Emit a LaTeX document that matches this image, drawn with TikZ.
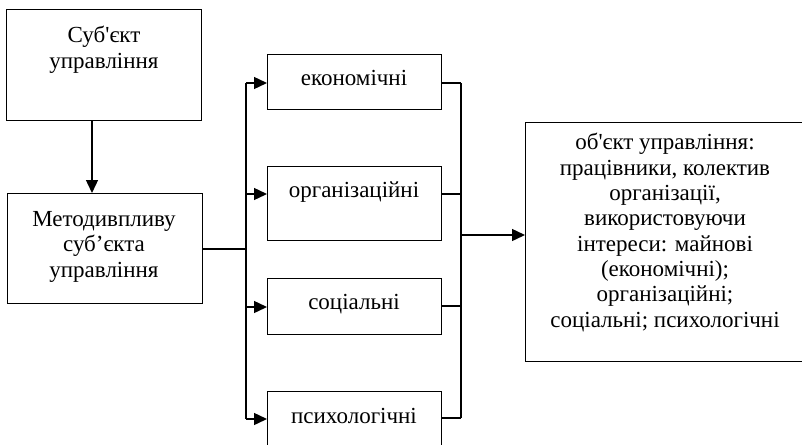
\documentclass[tikz,border=0pt]{standalone}
\usepackage{fontspec}
\newfontfamily\uafont{Liberation Serif}
\usetikzlibrary{arrows.meta}
\begin{document}
\begin{tikzpicture}[x=1pt,y=-1pt,
  box/.style={draw, line width=1.4pt, rectangle, anchor=north west, inner sep=0pt},
  txt/.style={font=\uafont\fontsize{23}{25.3}\selectfont, align=center, anchor=base, inner sep=0pt},
  link/.style={line width=1.4pt},
  arr/.style={line width=1.4pt, -{Triangle[length=13pt,width=12pt]}}]
\useasboundingbox (0,0) rectangle (802,444);
\clip (0,0) rectangle (802,444);

% boxes
\node[box, minimum width=195pt, minimum height=111pt] (subj) at (6,9) {};
\node[box, minimum width=195pt, minimum height=110pt] (meth) at (7,193) {};
\node[box, minimum width=174pt, minimum height=55pt] (econ) at (267,54) {};
\node[box, minimum width=174pt, minimum height=74pt] (org) at (267,166) {};
\node[box, minimum width=174pt, minimum height=56pt] (soc) at (267,278) {};
\node[box, minimum width=174pt, minimum height=70pt] (psy) at (267,391) {};
\node[box, minimum width=280pt, minimum height=239pt] (obj) at (525,122) {};

% texts (multi-line nodes are placed by the baseline of their last line)
\node[txt] (tsubj) at (104,68) {Суб\char"0027\relax єкт\\управління};
\node[txt] (tmeth) at (104,277) {Методивпливу\\суб’єкта\\управління};
\node[txt] (tecon) at (354,85) {економічні};
\node[txt] (torg) at (354,197) {організаційні};
\node[txt] (tsoc) at (354,309) {соціальні};
\node[txt] (tpsy) at (354,423) {психологічні};
\node[txt] (tobj) at (665,327) {об\char"0027\relax єкт управління:\\працівники, колектив\\організації,\\використовуючи\\інтереси: майнові\\(економічні);\\організаційні;\\соціальні; психологічні};

% bus coordinates
\coordinate (dx) at (92,0);
\coordinate (lE) at (246,83);
\coordinate (lO) at (246,194);
\coordinate (lM) at (246,249);
\coordinate (lS) at (246,307);
\coordinate (lP) at (246,419);
\coordinate (rE) at (461,83);
\coordinate (rO) at (461,194);
\coordinate (rX) at (461,235);
\coordinate (rS) at (461,306);
\coordinate (rP) at (461,418);

% connectors
\draw[arr] (subj.south -| dx) -- (meth.north -| dx);
\draw[link] (meth.east |- lM) -- (lM);
\draw[link] (lE) -- (lP);
\draw[arr] (lE) -- (econ.west |- lE);
\draw[arr] (lO) -- (org.west |- lO);
\draw[arr] (lS) -- (soc.west |- lS);
\draw[arr] (lP) -- (psy.west |- lP);
\draw[link] (econ.east |- rE) -- (rE);
\draw[link] (org.east |- rO) -- (rO);
\draw[link] (soc.east |- rS) -- (rS);
\draw[link] (psy.east |- rP) -- (rP);
\draw[link] (rE) -- (rP);
\draw[arr] (rX) -- (obj.west |- rX);
\end{tikzpicture}
\end{document}
